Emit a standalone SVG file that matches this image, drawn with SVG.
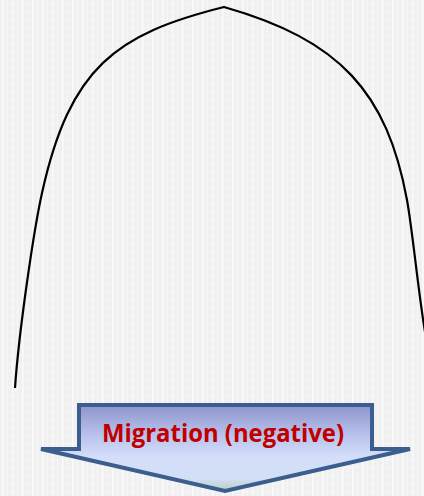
<svg xmlns="http://www.w3.org/2000/svg" width="424" height="496" viewBox="0 0 424 496">
  <defs>
    <pattern id="bg" width="10" height="8" patternUnits="userSpaceOnUse">
      <rect width="10" height="8" fill="#f0f0f0"/>
      <rect x="2" y="0" width="1.6" height="8" fill="#fafafa"/>
      <rect x="7" y="0" width="1" height="8" fill="#f6f6f6"/>
      <rect x="0" y="3" width="10" height="1" fill="#f7f7f7" opacity="0.7"/>
    </pattern>
    <linearGradient id="arrowFill" x1="0" y1="0" x2="0" y2="1">
      <stop offset="0" stop-color="#8d94cb"/>
      <stop offset="0.35" stop-color="#b8c2ec"/>
      <stop offset="0.6" stop-color="#d4defa"/>
      <stop offset="0.85" stop-color="#d3dff5"/>
      <stop offset="1" stop-color="#b9d0c2"/>
    </linearGradient>
    <style>
      .curve { fill: none; stroke: #000; stroke-width: 2.2; stroke-linejoin: miter; }
      .arrow { fill: url(#arrowFill); stroke: #3b5e8e; stroke-width: 4; stroke-linejoin: miter; }
      .label { font-family: "Open Sans", "Liberation Sans", sans-serif; font-weight: bold; font-size: 25px; fill: #c00000; }
    </style>
  </defs>
  <rect width="424" height="496" fill="url(#bg)"/>
  <g id="curve">
    <path class="curve" d="M15,388 C19,330 34,229 42,193 C70,67 116,34 224,7 C340,40 387,92 407,200 C412.4,229.4 418,290 425,332"/>
  </g>
  <g id="migration-arrow">
    <polygon class="arrow" points="79,405 372,405 372,449 410,449 225,491 41,449 79,449"/>
    <text class="label" x="223" y="442" text-anchor="middle" textLength="242" lengthAdjust="spacingAndGlyphs">Migration (negative)</text>
  </g>
</svg>
